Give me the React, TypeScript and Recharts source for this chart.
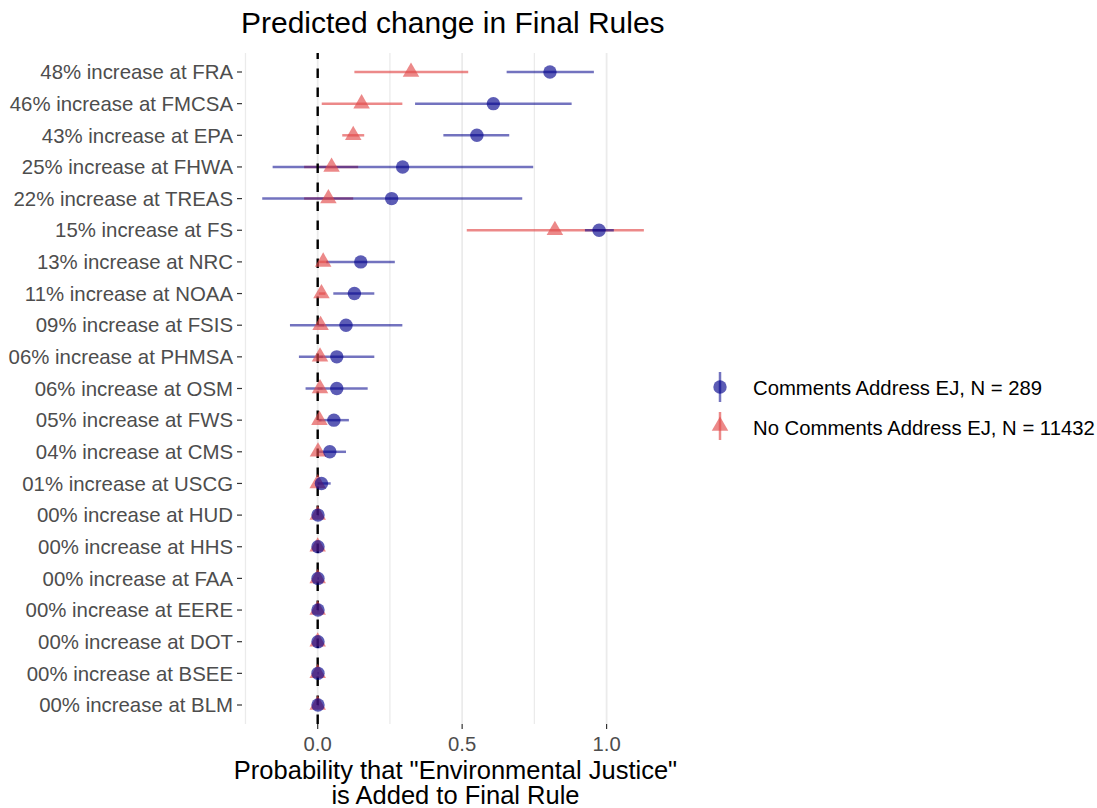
import { ComposedChart, Scatter, ErrorBar, XAxis, YAxis, ReferenceLine } from 'recharts';

const FONT = '"Liberation Sans", Arial, Helvetica, sans-serif';

// rows top to bottom
const agencyLabels = [
  '48% increase at FRA',
  '46% increase at FMCSA',
  '43% increase at EPA',
  '25% increase at FHWA',
  '22% increase at TREAS',
  '15% increase at FS',
  '13% increase at NRC',
  '11% increase at NOAA',
  '09% increase at FSIS',
  '06% increase at PHMSA',
  '06% increase at OSM',
  '05% increase at FWS',
  '04% increase at CMS',
  '01% increase at USCG',
  '00% increase at HUD',
  '00% increase at HHS',
  '00% increase at FAA',
  '00% increase at EERE',
  '00% increase at DOT',
  '00% increase at BSEE',
  '00% increase at BLM',
];

// Comments Address EJ, N = 289
const ejEstimate = [0.804, 0.608, 0.551, 0.294, 0.256, 0.974, 0.149, 0.127, 0.098, 0.066, 0.066, 0.056, 0.042, 0.013, 0.001, 0.001, 0.001, 0.001, 0.001, 0.001, 0.001];
const ejLow = [0.654, 0.337, 0.435, -0.156, -0.192, 0.925, 0.03, 0.054, -0.096, -0.065, -0.042, 0.004, 0.0, 0.0, 0.0, 0.0, 0.0, 0.0, 0.0, 0.0, 0.0];
const ejHigh = [0.956, 0.879, 0.663, 0.746, 0.708, 1.025, 0.267, 0.196, 0.293, 0.196, 0.173, 0.108, 0.098, 0.045, 0.004, 0.004, 0.004, 0.004, 0.004, 0.004, 0.004];

// No Comments Address EJ, N = 11432
const noEjEstimate = [0.323, 0.152, 0.123, 0.048, 0.037, 0.821, 0.019, 0.013, 0.01, 0.008, 0.008, 0.006, 0.001, 0.0, 0.0, 0.0, 0.0, 0.0, 0.0, 0.0, 0.0];
const noEjLow = [0.127, 0.014, 0.085, -0.047, -0.047, 0.516, 0.005, 0.004, 0.002, 0.0, 0.0, 0.0, 0.0, 0.0, 0.0, 0.0, 0.0, 0.0, 0.0, 0.0, 0.0];
const noEjHigh = [0.521, 0.293, 0.161, 0.14, 0.123, 1.129, 0.035, 0.027, 0.022, 0.018, 0.017, 0.013, 0.004, 0.002, 0.001, 0.001, 0.001, 0.001, 0.001, 0.001, 0.001];

const xTicks = [0, 0.5, 1];
const majorGrid = [0, 0.5, 1];
const minorGrid = [-0.25, 0.25, 0.75];

const rows = agencyLabels.map((label, i) => ({
  label,
  ej: ejEstimate[i],
  ejErr: [ejEstimate[i] - ejLow[i], ejHigh[i] - ejEstimate[i]],
  noEj: noEjEstimate[i],
  noEjErr: [noEjEstimate[i] - noEjLow[i], noEjHigh[i] - noEjEstimate[i]],
}));

const BLUE = '#00008B';
const RED = '#e24a4a';

const Dot = (p: any) => <circle cx={p.cx} cy={p.cy} r={6.7} fill={BLUE} fillOpacity={0.64} />;

const Tri = (p: any) => {
  const w = 16.5, h = 14.3;
  const pts = `${p.cx},${p.cy - (2 * h) / 3} ${p.cx - w / 2},${p.cy + h / 3} ${p.cx + w / 2},${p.cy + h / 3}`;
  return <polygon points={pts} fill={RED} fillOpacity={0.65} />;
};

export default function App() {
  return (
    <div style={{ position: 'absolute', left: 0, top: 0, width: 1097, height: 808, background: '#fff', fontFamily: FONT }}>
      <ComposedChart
        width={1097}
        height={808}
        data={rows}
        layout="vertical"
        margin={{ top: 53, right: 428, bottom: 0, left: 0 }}
      >
        {minorGrid.map((v) => (
          <ReferenceLine key={'mi' + v} x={v} stroke="#ebebeb" strokeWidth={1.3} />
        ))}
        {majorGrid.map((v) => (
          <ReferenceLine key={'ma' + v} x={v} stroke="#ebebeb" strokeWidth={1.8} />
        ))}
        <XAxis
          type="number"
          domain={[-0.262, 1.216]}
          allowDataOverflow
          ticks={xTicks}
          tickFormatter={(v: number) => v.toFixed(1)}
          height={84}
          axisLine={false}
          tickLine={{ stroke: '#333333', strokeWidth: 1.2 }}
          tickSize={5}
          tickMargin={8}
          tick={{ fontSize: 20.3, fill: '#4d4d4d', fontFamily: FONT }}
        />
        <YAxis
          type="category"
          dataKey="label"
          width={242}
          padding={{ top: 19, bottom: 19 }}
          axisLine={false}
          tickLine={{ stroke: '#333333', strokeWidth: 1.2 }}
          tickSize={5}
          tickMargin={4}
          interval={0}
          tick={{ fontSize: 20.4, fill: '#4d4d4d', fontFamily: FONT }}
        />
        <Scatter dataKey="noEj" shape={Tri} isAnimationActive={false}>
          <ErrorBar dataKey="noEjErr" direction="x" width={0} stroke={RED} strokeOpacity={0.65} strokeWidth={2.5} />
        </Scatter>
        <Scatter dataKey="ej" shape={Dot} isAnimationActive={false}>
          <ErrorBar dataKey="ejErr" direction="x" width={0} stroke={BLUE} strokeOpacity={0.55} strokeWidth={2.5} />
        </Scatter>
        <ReferenceLine x={0} stroke="#000" strokeWidth={2.4} strokeDasharray="9.5 9.5" />
      </ComposedChart>

      <div style={{ position: 'absolute', left: 241, top: 8, fontSize: 30, lineHeight: '30px', color: '#000', whiteSpace: 'nowrap' }}>
        Predicted change in Final Rules
      </div>
      <div style={{ position: 'absolute', left: 205.5, width: 500, top: 758.3, fontSize: 25.5, lineHeight: '24.8px', color: '#000', whiteSpace: 'nowrap', textAlign: 'center' }}>
        Probability that "Environmental Justice"
        <br />
        is Added to Final Rule
      </div>

      {/* legend */}
      <svg style={{ position: 'absolute', left: 700, top: 365 }} width={40} height={80}>
        <line x1={20} y1={7} x2={20} y2={37} stroke={BLUE} strokeOpacity={0.55} strokeWidth={2.5} />
        <circle cx={20} cy={22} r={6.7} fill={BLUE} fillOpacity={0.64} />
        <line x1={20} y1={47} x2={20} y2={75} stroke={RED} strokeOpacity={0.65} strokeWidth={2.5} />
        <polygon points={`20,${61 - 9.5} ${20 - 8.25},${61 + 4.8} ${20 + 8.25},${61 + 4.8}`} fill={RED} fillOpacity={0.65} />
      </svg>
      <div style={{ position: 'absolute', left: 753, top: 378, fontSize: 20.3, lineHeight: '20px', color: '#000', whiteSpace: 'nowrap' }}>
        Comments Address EJ, N = 289
      </div>
      <div style={{ position: 'absolute', left: 753, top: 417.5, fontSize: 20.3, lineHeight: '20px', color: '#000', whiteSpace: 'nowrap' }}>
        No Comments Address EJ, N = 11432
      </div>
    </div>
  );
}
